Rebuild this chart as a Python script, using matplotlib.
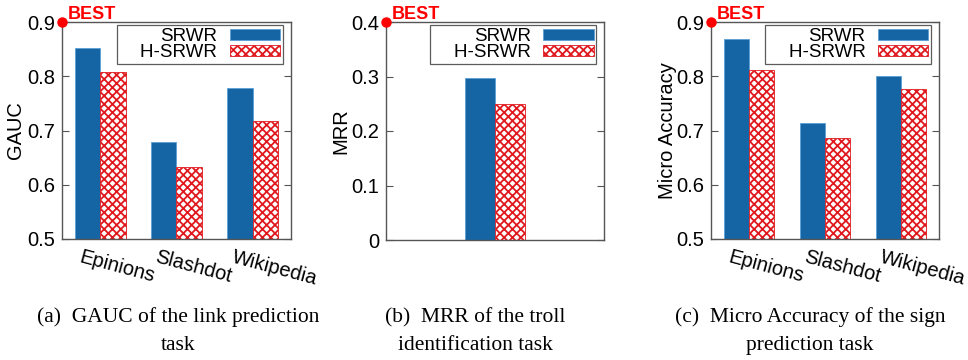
import numpy as np
import matplotlib
matplotlib.use('Agg')
import matplotlib.pyplot as plt
import matplotlib.transforms as mtransforms

plt.rcParams['font.family'] = ['Liberation Sans', 'DejaVu Sans']
plt.rcParams['hatch.linewidth'] = 1.3
plt.rcParams['hatch.color'] = '#e0191e'

# GAUC (link prediction), MRR (troll identification), micro accuracy (sign prediction)
datasets = ['Epinions', 'Slashdot', 'Wikipedia']
methods = ['SRWR', 'H-SRWR']
gauc_srwr = [0.852, 0.678, 0.779]
gauc_hsrwr = [0.808, 0.632, 0.717]
mrr_srwr = [0.297]
mrr_hsrwr = [0.250]
acc_srwr = [0.869, 0.713, 0.800]
acc_hsrwr = [0.811, 0.686, 0.777]

captions = [('(a)  GAUC of the link prediction', 'task'),
            ('(b)  MRR of the troll', 'identification task'),
            ('(c)  Micro Accuracy of the sign', 'prediction task')]

BLUE = '#1565a5'
RED = '#e0191e'
BORDER = '#555555'

W, H = 968, 360
fig = plt.figure(figsize=(W / 100, H / 100), dpi=100)


def px_axes(x0, x1, y0, y1):
    return fig.add_axes([x0 / W, 1 - y1 / H, (x1 - x0) / W, (y1 - y0) / H])


def draw_panel(ax, labels, srwr, hsrwr, ylim, yticks, ytick_labels, ylabel, ylabel_x,
               width, xlim):
    x = np.arange(len(srwr))
    ax.bar(x - width / 2, srwr, width, color=BLUE, edgecolor='#5a9fd4', linewidth=0.6,
           label=methods[0])
    ax.bar(x + width / 2, hsrwr, width, color='white', edgecolor=RED, linewidth=0.6,
           hatch='xxxx', label='    ' + methods[1])
    ax.set_xlim(xlim)
    ax.set_ylim(ylim)
    ax.set_yticks(yticks)
    ax.set_yticklabels(ytick_labels, fontsize=14.5)
    ax.tick_params(axis='y', direction='in', length=5, width=0.8, color=BORDER,
                   right=True, pad=5)
    ax.set_xticks(x)
    ax.set_xticklabels(labels)
    ax.tick_params(axis='x', length=0, pad=6)
    shift = mtransforms.ScaledTranslation(-0.18, 0, fig.dpi_scale_trans)
    for t in ax.get_xticklabels():
        t.set_rotation(-15)
        t.set_rotation_mode('anchor')
        t.set_ha('left')
        t.set_va('top')
        t.set_fontsize(14.5)
        t.set_transform(t.get_transform() + shift)
    for s in ax.spines.values():
        s.set_color(BORDER)
        s.set_linewidth(1.0)
    ax.set_ylabel(ylabel, fontsize=14.5)
    ax.yaxis.set_label_coords(ylabel_x, 0.5)

    leg = ax.legend(loc='upper right', bbox_to_anchor=(0.965, 0.986), markerfirst=False,
                    fontsize=13.5, frameon=True, fancybox=False, handlelength=2.7,
                    handleheight=0.55, borderpad=0.15, labelspacing=-0.05,
                    handletextpad=0.65, borderaxespad=0.0)
    leg.get_frame().set_edgecolor('#333333')
    leg.get_frame().set_linewidth(0.9)
    for t in leg.get_texts():
        t.set_ha('right')

    # red marker showing the best possible score
    ax.plot([xlim[0]], [ylim[1]], 'o', color='red', markersize=6.5, clip_on=False, zorder=10)
    ax.annotate('BEST', (xlim[0], ylim[1]), xytext=(4, 2), textcoords='offset points',
                color='red', fontsize=13, fontweight='bold', ha='left', va='baseline',
                annotation_clip=False)


ax1 = px_axes(62, 291, 22, 239)
draw_panel(ax1, datasets, gauc_srwr, gauc_hsrwr, (0.5, 0.9),
           [0.5, 0.6, 0.7, 0.8, 0.9], ['0.5', '0.6', '0.7', '0.8', '0.9'],
           'GAUC', -0.162, 1 / 3, (-0.5, 2.5))

ax2 = px_axes(386, 604, 22, 240)
draw_panel(ax2, [''], mrr_srwr, mrr_hsrwr, (0, 0.4),
           [0, 0.1, 0.2, 0.3, 0.4], ['0', '0.1', '0.2', '0.3', '0.4'],
           'MRR', -0.165, 0.278, (-1, 1))

ax3 = px_axes(711, 939, 22, 239)
draw_panel(ax3, datasets, acc_srwr, acc_hsrwr, (0.5, 0.9),
           [0.5, 0.6, 0.7, 0.8, 0.9], ['0.5', '0.6', '0.7', '0.8', '0.9'],
           'Micro Accuracy', -0.149, 1 / 3, (-0.5, 2.5))

serif = ['Liberation Serif', 'DejaVu Serif']
for cx, (line1, line2) in zip([178, 475, 810], captions):
    fig.text(cx / W, 1 - 322 / H, line1, ha='center', va='baseline', fontsize=15.5,
             family=serif)
    fig.text(cx / W, 1 - 350 / H, line2, ha='center', va='baseline', fontsize=15.5,
             family=serif)

fig.savefig('out.png', dpi=100)
